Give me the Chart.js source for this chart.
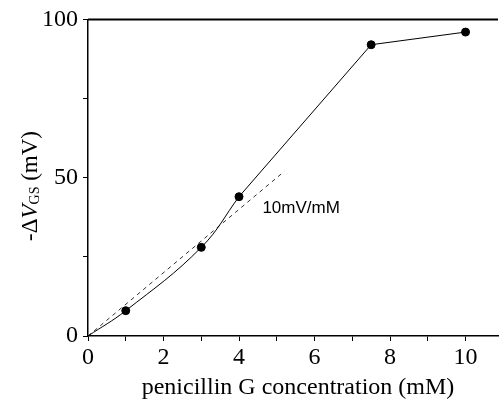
<!DOCTYPE html>
<html><head><meta charset="utf-8">
<script src="https://cdn.jsdelivr.net/npm/chart.js@4.4.0/dist/chart.umd.min.js"></script>
<style>html,body{margin:0;padding:0;background:#fff}#wrap{width:503px;height:403px}</style>
</head><body><div id="wrap"><canvas id="c"></canvas></div>
<script>
// data
const concMM = [0, 1, 3, 4, 7.5, 10];
const deltaVgs = [0, 8, 28, 44, 92, 96];
const fitConc = [0, 5.2];
const fitVgs = [0, 52];
const xTickVals = [0, 1, 2, 3, 4, 5, 6, 7, 8, 9, 10];
const xLabelled = [0, 2, 4, 6, 8, 10];
const yTickVals = [0, 25, 50, 75, 100];
const yLabelled = [0, 50, 100];
const slopeLabel = '10mV/mM';

const serif = "'Liberation Serif', 'Times New Roman', serif";
const pts = (xs, ys) => xs.map((x, i) => ({ x: x, y: ys[i] }));

// curved part up to 4 mM, straight after
const curvePart = pts(concMM.slice(0, 4), deltaVgs.slice(0, 4));
const straightPart = pts(concMM.slice(3), deltaVgs.slice(3));
const markers = pts(concMM.slice(1), deltaVgs.slice(1));

const decorations = {
    id: 'decorations',
    afterDraw(chart) {
        const ctx = chart.ctx, a = chart.chartArea;
        const xs = chart.scales.x, ys = chart.scales.y;
        ctx.save();
        // top frame line
        ctx.strokeStyle = '#000'; ctx.lineWidth = 2;
        ctx.beginPath(); ctx.moveTo(a.left, a.top); ctx.lineTo(a.right, a.top); ctx.stroke();

        // slope annotation
        ctx.fillStyle = '#000';
        ctx.font = "17px 'Liberation Sans', Arial, sans-serif";
        ctx.textAlign = 'left'; ctx.textBaseline = 'middle';
        ctx.fillText(slopeLabel, xs.getPixelForValue(4.62), ys.getPixelForValue(40.3));

        // x title
        ctx.font = '24px ' + serif;
        ctx.textAlign = 'center'; ctx.textBaseline = 'alphabetic';
        ctx.fillText('penicillin G concentration (mM)', 298, 394);

        // y title, rotated, with subscript
        ctx.translate(37, 186);
        ctx.rotate(-Math.PI / 2);
        const parts = [
            { t: '-\u0394', f: '23px ' + serif, dy: 0 },
            { t: 'V', f: 'italic 23px ' + serif, dy: 0 },
            { t: 'GS', f: '14px ' + serif, dy: 2 },
            { t: ' (mV)', f: '23px ' + serif, dy: 0 }
        ];
        let total = 0;
        parts.forEach(p => { ctx.font = p.f; p.w = ctx.measureText(p.t).width; total += p.w; });
        let x = -total / 2;
        ctx.textAlign = 'left';
        parts.forEach(p => { ctx.font = p.f; ctx.fillText(p.t, x, p.dy); x += p.w; });
        ctx.restore();
    }
};

new Chart(document.getElementById('c'), {
    type: 'line',
    data: {
        datasets: [
            { data: curvePart, borderColor: '#000', borderWidth: 1, pointRadius: 0, tension: 0.4 },
            { data: straightPart, borderColor: '#000', borderWidth: 1, pointRadius: 0, tension: 0 },
            { data: pts(fitConc, fitVgs), borderColor: '#333', borderWidth: 1, borderDash: [4, 4], pointRadius: 0 },
            { data: markers, showLine: false, pointRadius: 4, pointBackgroundColor: '#000', pointBorderColor: '#000' }
        ]
    },
    options: {
        responsive: true, maintainAspectRatio: false, animation: false,
        layout: { padding: { top: 18, right: 0, left: 0, bottom: 0 } },
        plugins: { legend: { display: false }, tooltip: { enabled: false } },
        scales: {
            x: {
                type: 'linear', min: 0, max: 10.86,
                afterBuildTicks: s => { s.ticks = xTickVals.map(v => ({ value: v })); },
                afterFit: s => { s.height = 67; },
                border: { color: '#000', width: 1.5 },
                grid: { drawOnChartArea: false, color: '#000', tickLength: 5 },
                ticks: {
                    autoSkip: false, maxRotation: 0, padding: 2, color: '#000',
                    font: { family: serif, size: 24 },
                    callback: v => xLabelled.includes(v) ? String(v) : ''
                }
            },
            y: {
                min: 0, max: 100,
                afterBuildTicks: s => { s.ticks = yTickVals.map(v => ({ value: v })); },
                afterFit: s => { s.width = 88; },
                border: { color: '#000', width: 1.5 },
                grid: { drawOnChartArea: false, color: '#000', tickLength: 5 },
                ticks: {
                    autoSkip: false, padding: 5, color: '#000',
                    font: { family: serif, size: 24 },
                    callback: v => yLabelled.includes(v) ? String(v) : ''
                }
            }
        }
    },
    plugins: [decorations]
});
</script>
</body></html>
